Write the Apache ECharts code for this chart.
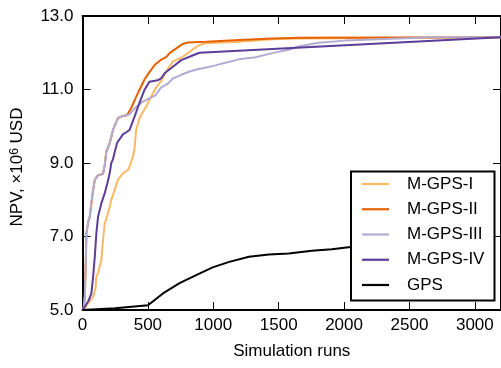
<!DOCTYPE html>
<html><head><meta charset="utf-8">
<script src="https://cdn.jsdelivr.net/npm/echarts@6/dist/echarts.min.js"></script>
<style>html,body{margin:0;padding:0;background:#fff}#c{width:501px;height:368px}</style>
</head><body><div id="c"></div>
<script>
const seriesNames = ['M-GPS-I', 'M-GPS-II', 'M-GPS-III', 'M-GPS-IV', 'GPS'];
const seriesColors = ['#fdb863', '#e66101', '#b2abd2', '#5e3c99', '#000000'];
const xTicks = [0, 500, 1000, 1500, 2000, 2500, 3000];
const yTicks = [5.0, 7.0, 9.0, 11.0, 13.0];

const mgps1X = [0, 20, 43, 81, 100, 106, 119, 144, 157, 170, 195, 220, 246, 271, 309, 347, 360, 385, 398, 410, 436, 461, 486, 524, 562, 600, 641, 691, 767, 843, 894, 945, 1197, 1450, 1653, 3200];
const mgps1Y = [5.0, 5.05, 5.18, 5.36, 5.6, 5.91, 6.0, 6.36, 6.9, 7.36, 7.63, 7.99, 8.27, 8.54, 8.72, 8.81, 8.9, 9.17, 9.4, 9.9, 10.22, 10.38, 10.53, 10.8, 11.05, 11.22, 11.5, 11.76, 11.89, 12.09, 12.21, 12.26, 12.3, 12.37, 12.39, 12.42];

const mgps2X = [0, 10, 18, 25, 30, 45, 56, 68, 81, 94, 119, 157, 170, 182, 208, 233, 271, 300, 340, 372, 410, 437, 475, 513, 555, 605, 640, 666, 717, 767, 805, 945, 1197, 1450, 1653, 3200];
const mgps2Y = [5.0, 5.08, 5.4, 6.3, 7.1, 7.4, 7.55, 7.9, 8.27, 8.54, 8.67, 8.7, 8.95, 9.3, 9.54, 9.9, 10.22, 10.27, 10.3, 10.49, 10.8, 11.0, 11.28, 11.48, 11.68, 11.82, 11.88, 11.99, 12.12, 12.24, 12.28, 12.3, 12.35, 12.39, 12.41, 12.42];

const mgps3X = [0, 10, 18, 25, 30, 45, 56, 68, 81, 94, 119, 157, 170, 182, 208, 233, 271, 300, 340, 360, 410, 461, 512, 560, 600, 650, 691, 755, 818, 880, 945, 1010, 1071, 1197, 1324, 1450, 1577, 1653, 1804, 2007, 2260, 2514, 2653, 3200];
const mgps3Y = [5.0, 5.08, 5.4, 6.3, 7.1, 7.4, 7.55, 7.9, 8.27, 8.54, 8.67, 8.7, 8.95, 9.3, 9.54, 9.9, 10.22, 10.27, 10.3, 10.33, 10.52, 10.67, 10.76, 10.85, 11.05, 11.15, 11.3, 11.4, 11.49, 11.55, 11.6, 11.65, 11.71, 11.82, 11.88, 11.99, 12.08, 12.17, 12.27, 12.33, 12.37, 12.4, 12.42, 12.42];

const mgps4X = [0, 13, 43, 68, 81, 94, 106, 119, 144, 170, 190, 208, 220, 233, 250, 265, 309, 340, 360, 398, 436, 474, 512, 575, 600, 628, 691, 755, 818, 894, 3200];
const mgps4Y = [5.0, 5.05, 5.23, 5.45, 5.91, 6.45, 7.09, 7.54, 7.9, 8.18, 8.45, 8.72, 9.0, 9.1, 9.35, 9.55, 9.78, 9.85, 9.9, 10.26, 10.64, 10.99, 11.21, 11.25, 11.3, 11.44, 11.62, 11.8, 11.89, 12.0, 12.42];

const gpsX = [0, 250, 501, 615, 742, 869, 995, 1122, 1273, 1425, 1577, 1754, 1906, 2033, 2500, 3000];
const gpsY = [5.0, 5.05, 5.13, 5.45, 5.73, 5.95, 6.16, 6.31, 6.45, 6.51, 6.54, 6.61, 6.65, 6.71, 6.8, 6.88];

const xs = [mgps1X, mgps2X, mgps3X, mgps4X, gpsX];
const ys = [mgps1Y, mgps2Y, mgps3Y, mgps4Y, gpsY];
const FONT = '"Liberation Sans", Arial, Helvetica, sans-serif';

const chart = echarts.init(document.getElementById('c'), null, {renderer: 'canvas'});

function xAx(pos, showLabel) {
  return {
    type: 'value', position: pos, min: xTicks[0], max: 3200, interval: 500,
    axisLine: {show: true, onZero: false, lineStyle: {color: '#000', width: 2}},
    axisTick: {show: true, inside: true, length: 8, lineStyle: {color: '#000', width: 1}},
    axisLabel: {show: showLabel, color: '#000', fontSize: 17, fontFamily: FONT, margin: 7,
      showMaxLabel: false,
      formatter: v => xTicks.indexOf(v) >= 0 ? String(v) : ''},
    splitLine: {show: false},
    name: showLabel ? 'Simulation runs' : '', nameLocation: 'middle', nameGap: 33,
    nameTextStyle: {color: '#000', fontSize: 17, fontFamily: FONT}
  };
}
function yAx(pos, showLabel) {
  return {
    type: 'value', position: pos, min: yTicks[0], max: yTicks[yTicks.length - 1], interval: 2,
    axisLine: {show: true, onZero: false, lineStyle: {color: '#000', width: 2}},
    axisTick: {show: true, inside: true, length: 8, lineStyle: {color: '#000', width: 1}},
    axisLabel: {show: showLabel, color: '#000', fontSize: 17, fontFamily: FONT, margin: 9,
      formatter: v => v.toFixed(1)},
    splitLine: {show: false},
    name: showLabel ? 'NPV, ×10{sup|6} USD' : '', nameLocation: 'middle', nameGap: 56, nameRotate: 90,
    nameTextStyle: {color: '#000', fontSize: 17, fontFamily: FONT, padding: [0, 8, 0, 0],
      rich: {sup: {fontSize: 12, fontFamily: FONT, color: '#000', verticalAlign: 'top', padding: [0, 0, 6, 0]}}}
  };
}

chart.setOption({
  animation: false,
  backgroundColor: '#fff',
  grid: {left: 82.5, top: 16, bottom: 58, right: -2.7, containLabel: false},
  xAxis: [xAx('bottom', true), xAx('top', false)],
  yAxis: [yAx('left', true), yAx('right', false)],
  legend: {
    orient: 'vertical', left: 362, top: 175.5, padding: 0,
    itemWidth: 27, itemHeight: 17, itemGap: 8.25,
    icon: 'path://M0,0H27V2.2H0Z', symbolKeepAspect: true,
    data: seriesNames,
    textStyle: {color: '#000', fontSize: 17, fontFamily: FONT, lineHeight: 17, padding: [0, 0, 0, 13]},
    z: 6
  },
  graphic: [{
    type: 'rect', z: 5, silent: true,
    shape: {x: 351, y: 171.5, width: 143.5, height: 129},
    style: {fill: '#fff', stroke: '#000', lineWidth: 2}
  }],
  series: seriesNames.map((n, i) => ({
    name: n, type: 'line', xAxisIndex: 0, yAxisIndex: 0,
    data: xs[i].map((x, j) => [x, ys[i][j]]),
    symbol: 'none', showSymbol: false,
    lineStyle: {color: seriesColors[i], width: 2},
    itemStyle: {color: seriesColors[i]},
    z: 2
  }))
});
</script></body></html>
